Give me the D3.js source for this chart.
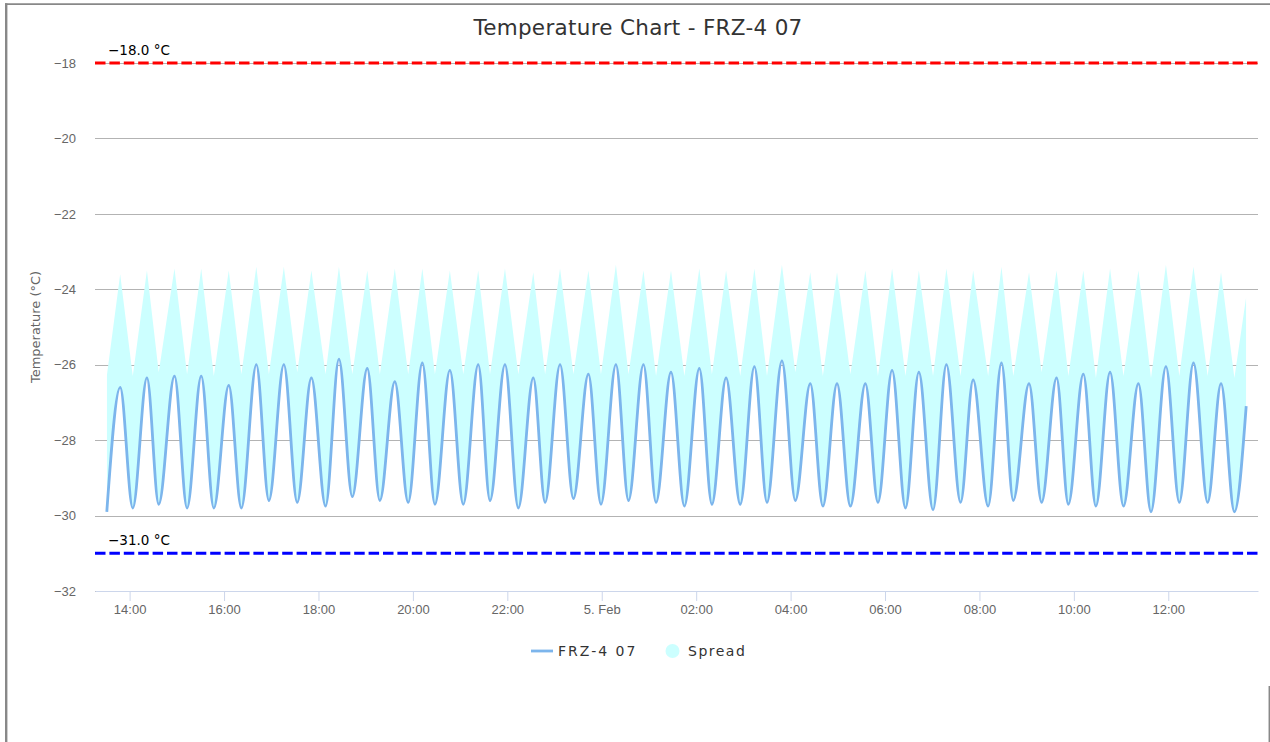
<!DOCTYPE html>
<html>
<head>
<meta charset="utf-8">
<script src="https://cdn.jsdelivr.net/npm/d3@7"></script>
<style>
body { margin: 0; background: #fff; }
svg { display: block; font-family: "DejaVu Sans", sans-serif; }
.grid line { stroke: #b3b3b3; shape-rendering: crispEdges; }
.grid .domain { display: none; }
.ylabels .domain, .ylabels line { display: none; }
.ylabels text, .xaxis text { fill: #666; font-size: 13px; }
.xaxis .domain, .xaxis line { stroke: #ccd6eb; }
</style>
</head>
<body>
<svg id="chart" width="1270" height="742"></svg>
<script>
(function () {

    var chartTitle = "Temperature Chart - FRZ-4 07";
    var seriesName = "FRZ-4 07";
    var spreadName = "Spread";
    var yTitle = "Temperature (°C)";

    // timestamps of the readings (peaks and dips of each cycle)
    var times = [
        "2024-02-04 13:31", "2024-02-04 13:48", "2024-02-04 14:04", "2024-02-04 14:22", "2024-02-04 14:37",
        "2024-02-04 14:57", "2024-02-04 15:13", "2024-02-04 15:31", "2024-02-04 15:47", "2024-02-04 16:06",
        "2024-02-04 16:22", "2024-02-04 16:41", "2024-02-04 16:57", "2024-02-04 17:16", "2024-02-04 17:33",
        "2024-02-04 17:51", "2024-02-04 18:09", "2024-02-04 18:26", "2024-02-04 18:43", "2024-02-04 19:02",
        "2024-02-04 19:18", "2024-02-04 19:37", "2024-02-04 19:54", "2024-02-04 20:12", "2024-02-04 20:28",
        "2024-02-04 20:47", "2024-02-04 21:04", "2024-02-04 21:23", "2024-02-04 21:38", "2024-02-04 21:57",
        "2024-02-04 22:14", "2024-02-04 22:33", "2024-02-04 22:48", "2024-02-04 23:07", "2024-02-04 23:24",
        "2024-02-04 23:43", "2024-02-04 23:59", "2024-02-05 00:18", "2024-02-05 00:34", "2024-02-05 00:53",
        "2024-02-05 01:09", "2024-02-05 01:28", "2024-02-05 01:45", "2024-02-05 02:04", "2024-02-05 02:20",
        "2024-02-05 02:38", "2024-02-05 02:56", "2024-02-05 03:14", "2024-02-05 03:30", "2024-02-05 03:49",
        "2024-02-05 04:06", "2024-02-05 04:25", "2024-02-05 04:41", "2024-02-05 04:59", "2024-02-05 05:16",
        "2024-02-05 05:35", "2024-02-05 05:51", "2024-02-05 06:09", "2024-02-05 06:26", "2024-02-05 06:43",
        "2024-02-05 07:01", "2024-02-05 07:18", "2024-02-05 07:36", "2024-02-05 07:52", "2024-02-05 08:11",
        "2024-02-05 08:28", "2024-02-05 08:43", "2024-02-05 09:03", "2024-02-05 09:19", "2024-02-05 09:38",
        "2024-02-05 09:53", "2024-02-05 10:12", "2024-02-05 10:28", "2024-02-05 10:46", "2024-02-05 11:03",
        "2024-02-05 11:22", "2024-02-05 11:38", "2024-02-05 11:57", "2024-02-05 12:14", "2024-02-05 12:32",
        "2024-02-05 12:50", "2024-02-05 13:07", "2024-02-05 13:24", "2024-02-05 13:39"
    ];

    var temps = [
        -29.9, -26.6, -29.8, -26.35, -29.7, -26.3, -29.8, -26.3, -29.8, -26.55,
        -29.8, -26.0, -29.6, -26.0, -29.65, -26.35, -29.75, -25.85, -29.5, -26.1,
        -29.6, -26.45, -29.65, -25.95, -29.7, -26.15, -29.7, -26.0, -29.6, -26.0,
        -29.8, -26.35, -29.65, -26.0, -29.55, -26.25, -29.7, -26.0, -29.6, -26.0,
        -29.65, -26.2, -29.75, -26.1, -29.7, -26.35, -29.7, -26.05, -29.65, -25.9,
        -29.6, -26.5, -29.75, -26.5, -29.75, -26.5, -29.65, -26.15, -29.8, -26.2,
        -29.85, -26.0, -29.65, -26.4, -29.75, -25.95, -29.6, -26.5, -29.65, -26.35,
        -29.7, -26.25, -29.75, -26.2, -29.75, -26.5, -29.9, -26.05, -29.65, -25.95,
        -29.65, -26.5, -29.9, -27.1
    ];

    // upper edge of the spread band (lower edge follows the temperature)
    var spreadHigh = [
        -26.3, -23.6, -26.3, -23.5, -26.2, -23.45, -26.25, -23.45, -26.3, -23.5,
        -26.25, -23.4, -26.25, -23.4, -26.2, -23.5, -26.25, -23.4, -26.25, -23.5,
        -26.25, -23.45, -26.25, -23.45, -26.25, -23.5, -26.25, -23.5, -26.25, -23.45,
        -26.25, -23.55, -26.25, -23.45, -26.25, -23.5, -26.25, -23.35, -26.25, -23.5,
        -26.3, -23.5, -26.3, -23.45, -26.25, -23.5, -26.3, -23.45, -26.3, -23.35,
        -26.2, -23.55, -26.3, -23.55, -26.25, -23.5, -26.3, -23.45, -26.3, -23.5,
        -26.3, -23.45, -26.3, -23.5, -26.3, -23.4, -26.3, -23.55, -26.2, -23.5,
        -26.3, -23.5, -26.35, -23.45, -26.3, -23.5, -26.35, -23.35, -26.3, -23.4,
        -26.3, -23.55, -26.35, -24.2
    ];

    var yTicks = [-32, -30, -28, -26, -24, -22, -20, -18];
    var limitValues = [-18, -31];
    var limitLabels = ["\u221218.0 °C", "\u221231.0 °C"];
    var limitColors = ["#ff0000", "#0000ff"];

    var parseTime = d3.timeParse("%Y-%m-%d %H:%M");
    var xStart = parseTime("2024-02-04 13:16");
    var xEnd = parseTime("2024-02-05 13:54");

    var data = times.map(function (t, i) {
        return { date: parseTime(t), temp: temps[i], high: spreadHigh[i] };
    });

    //DIMENSIONS
    var margin = { top: 63, right: 12, bottom: 151, left: 95 },
        width = 1270 - margin.left - margin.right,
        height = 742 - margin.top - margin.bottom;

    var svgRoot = d3.select("#chart");

    //FRAME
    svgRoot.append("line").attr("x1", 5).attr("x2", 1270).attr("y1", 4.2).attr("y2", 4.2)
        .attr("stroke", "#888").attr("stroke-width", 1.8);
    svgRoot.append("line").attr("x1", 6.2).attr("x2", 6.2).attr("y1", 3.3).attr("y2", 742)
        .attr("stroke", "#888").attr("stroke-width", 2.4);
    svgRoot.append("line").attr("x1", 1269.3).attr("x2", 1269.3).attr("y1", 686).attr("y2", 742)
        .attr("stroke", "#888").attr("stroke-width", 1.5);

    //TITLE
    svgRoot.append("text")
        .attr("x", 638).attr("y", 35)
        .attr("text-anchor", "middle")
        .attr("fill", "#333")
        .style("font-size", "21.5px")
        .style("letter-spacing", "0.3px")
        .text(chartTitle);

    var svg = svgRoot.append("g")
        .attr("transform", "translate(" + margin.left + "," + margin.top + ")");

    var x = d3.scaleTime().domain([xStart, xEnd]).range([0, width]);
    var y = d3.scaleLinear().domain([-32, -18]).range([height, 0]);

    //Y GRID
    svg.append("g")
        .attr("class", "grid")
        .call(d3.axisLeft(y).tickValues(yTicks).tickSize(-width).tickFormat(""));

    //Y LABELS
    svg.append("g")
        .attr("class", "ylabels")
        .call(d3.axisLeft(y).tickValues(yTicks).tickSize(0).tickPadding(19));

    //Y TITLE
    svgRoot.append("text")
        .attr("transform", "translate(40," + (margin.top + height / 2) + ") rotate(-90)")
        .attr("text-anchor", "middle")
        .attr("fill", "#666")
        .style("font-size", "13px")
        .text(yTitle);

    //CLIP: EVERYTHING ABOVE THE TEMPERATURE LINE
    var aboveLine = d3.area()
        .x(function (d) { return x(d.date); })
        .y0(0)
        .y1(function (d) { return y(d.temp); })
        .curve(d3.curveMonotoneX);

    svg.append("clipPath")
        .attr("id", "aboveLine")
        .append("path")
        .datum(data)
        .attr("d", aboveLine);

    //SPREAD BAND
    var spreadArea = d3.area()
        .x(function (d) { return x(d.date); })
        .y0(height)
        .y1(function (d) { return y(d.high); });

    svg.append("path")
        .datum(data)
        .attr("clip-path", "url(#aboveLine)")
        .attr("fill", "#ccffff")
        .attr("d", spreadArea);

    //TEMPERATURE LINE
    var valueline = d3.line()
        .x(function (d) { return x(d.date); })
        .y(function (d) { return y(d.temp); })
        .curve(d3.curveMonotoneX);

    svg.append("path")
        .datum(data)
        .attr("fill", "none")
        .attr("stroke", "#7cb5ec")
        .attr("stroke-width", 2.8)
        .attr("stroke-linejoin", "round")
        .attr("d", valueline);

    //X AXIS
    var fmtHour = d3.timeFormat("%H:%M");
    var fmtDay = d3.timeFormat("%-d. %b");
    svg.append("g")
        .attr("class", "xaxis")
        .attr("transform", "translate(0," + height + ")")
        .call(d3.axisBottom(x)
            .ticks(d3.timeHour.every(2))
            .tickSize(10)
            .tickSizeOuter(0)
            .tickPadding(4)
            .tickFormat(function (d) {
                return d.getHours() === 0 ? fmtDay(d) : fmtHour(d);
            }));

    //LIMIT LINES
    limitValues.forEach(function (v, i) {
        svg.append("line")
            .attr("x1", 0).attr("x2", width)
            .attr("y1", y(v)).attr("y2", y(v))
            .attr("stroke", limitColors[i])
            .attr("stroke-width", 3)
            .attr("stroke-dasharray", "10.5,3.9");
        svg.append("text")
            .attr("x", 13).attr("y", y(v) - 8)
            .attr("fill", "#000")
            .style("font-size", "13.5px")
            .text(limitLabels[i]);
    });

    //LEGEND
    var legend = svgRoot.append("g");
    legend.append("line")
        .attr("x1", 531).attr("x2", 553).attr("y1", 651).attr("y2", 651)
        .attr("stroke", "#7cb5ec").attr("stroke-width", 2.8);
    legend.append("text")
        .attr("x", 558).attr("y", 656)
        .attr("fill", "#333")
        .style("font-size", "14px")
        .style("letter-spacing", "2px")
        .text(seriesName);
    legend.append("circle")
        .attr("cx", 672.5).attr("cy", 651).attr("r", 7)
        .attr("fill", "#ccffff");
    legend.append("text")
        .attr("x", 688).attr("y", 656)
        .attr("fill", "#333")
        .style("font-size", "14px")
        .style("letter-spacing", "1.5px")
        .text(spreadName);

})();
</script>
</body>
</html>
